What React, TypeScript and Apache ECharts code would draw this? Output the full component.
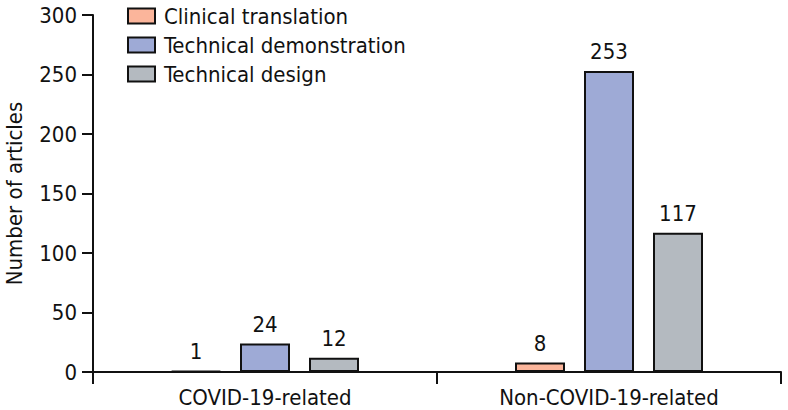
import React, { useEffect, useRef } from "react";
import * as echarts from "echarts";

const categories = ["COVID-19-related", "Non-COVID-19-related"];
const seriesNames = ["Clinical translation", "Technical demonstration", "Technical design"];
const clinicalTranslation = [1, 8];
const technicalDemonstration = [24, 253];
const technicalDesign = [12, 117];
const colors = ["#fbb59b", "#9eaad6", "#b4bac0"];

const FONT = "DejaVu Sans Condensed";
const FS = 22;
const INK = "#111111";

export default function App() {
  const ref = useRef<HTMLDivElement>(null);
  useEffect(() => {
    if (!ref.current) return;
    const chart = echarts.init(ref.current, null, { renderer: "svg" });
    const values = [clinicalTranslation, technicalDemonstration, technicalDesign];
    chart.setOption({
      animation: false,
      textStyle: { fontFamily: FONT },
      grid: { left: 93, right: 7, top: 15, bottom: 38, containLabel: false, outerBoundsMode: "none" },
      legend: {
        orient: "vertical",
        left: 122,
        top: 0,
        itemWidth: 27,
        itemHeight: 15,
        itemGap: 7,
        icon: "rect",
        itemStyle: { borderColor: INK, borderWidth: 2 },
        textStyle: { fontFamily: FONT, fontSize: FS, color: INK, padding: [0, 0, 0, 4] },
        data: seriesNames,
      },
      xAxis: {
        type: "category",
        data: categories,
        axisLine: { lineStyle: { color: INK, width: 2 } },
        axisTick: { show: true, length: 12, lineStyle: { color: INK, width: 2 } },
        axisLabel: { fontFamily: FONT, fontSize: FS, color: INK, margin: 14 },
      },
      yAxis: {
        type: "value",
        min: 0,
        max: 300,
        interval: 50,
        name: "Number of articles",
        nameLocation: "middle",
        nameGap: 68,
        nameTextStyle: { fontFamily: FONT, fontSize: FS, color: INK },
        axisLine: { show: true, lineStyle: { color: INK, width: 2 } },
        axisTick: { show: true, inside: false, length: 11, lineStyle: { color: INK, width: 2 } },
        axisLabel: { fontFamily: FONT, fontSize: FS, color: INK, margin: 16 },
        splitLine: { show: false },
      },
      series: seriesNames.map((name, i) => ({
        name,
        type: "bar",
        data: values[i],
        barWidth: 50,
        barGap: "38%",
        itemStyle: { color: colors[i], borderColor: INK, borderWidth: 2 },
        label: {
          show: true,
          position: "top",
          distance: 8,
          fontFamily: FONT,
          fontSize: FS,
          color: INK,
        },
      })),
    });
    return () => chart.dispose();
  }, []);
  return <div ref={ref} style={{ width: 788, height: 410, position: "absolute", left: 0, top: 0 }} />;
}
